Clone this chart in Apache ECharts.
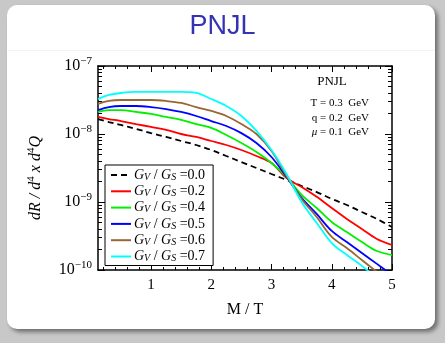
<!DOCTYPE html>
<html>
<head>
<meta charset="utf-8">
<title>PNJL</title>
<script src="https://cdn.jsdelivr.net/npm/echarts@6/dist/echarts.min.js"></script>
<style>
    html, body { margin: 0; padding: 0; background: #c8c8c8; }
    #panel {
        position: absolute; left: 7px; top: 5px; width: 428px; height: 324px;
        background: #fff; border-radius: 10px;
        box-shadow: 3px 3px 4px rgba(0, 0, 0, 0.45);
    }
    #rule { position: absolute; left: 7px; top: 50px; width: 428px; height: 1px; background: #f3f3f3; }
    #chart { position: absolute; left: 0; top: 0; width: 445px; height: 343px; }
</style>
</head>
<body>
<div id="panel"></div>
<div id="rule"></div>
<div id="chart"></div>
<script>
// 横轴 M/T
const massRatio = [0.12, 0.3, 0.5, 0.75, 1, 1.25, 1.5, 1.75, 2, 2.25, 2.5, 2.75, 3, 3.25, 3.5, 3.75, 4, 4.25, 4.5, 4.75, 5];

// dR/d^4x d^4Q，每条曲线一组
const rateGv00 = [1.66e-8, 1.50e-8, 1.36e-8, 1.19e-8, 1.03e-8, 9.04e-9, 7.89e-9, 6.89e-9, 5.82e-9, 4.75e-9, 3.87e-9, 3.16e-9, 2.58e-9, 2.11e-9, 1.72e-9, 1.40e-9, 1.11e-9, 9.04e-10, 7.13e-10, 5.62e-10, 4.29e-10];
const rateGv02 = [1.78e-8, 1.66e-8, 1.55e-8, 1.40e-8, 1.27e-8, 1.15e-8, 1.00e-8, 9.04e-9, 7.89e-9, 6.89e-9, 5.82e-9, 4.75e-9, 3.75e-9, 2.25e-9, 1.66e-9, 1.19e-9, 8.17e-10, 5.62e-10, 4.01e-10, 2.86e-10, 2.33e-10];
const rateGv04 = [2.11e-8, 2.25e-8, 2.25e-8, 2.11e-8, 1.97e-8, 1.78e-8, 1.61e-8, 1.40e-8, 1.23e-8, 9.67e-9, 7.38e-9, 5.44e-9, 3.75e-9, 2.33e-9, 1.27e-9, 8.17e-10, 5.08e-10, 3.62e-10, 2.58e-10, 1.90e-10, 1.66e-10];
const rateGv05 = [2.25e-8, 2.49e-8, 2.58e-8, 2.58e-8, 2.49e-8, 2.33e-8, 2.11e-8, 1.84e-8, 1.55e-8, 1.31e-8, 1.03e-8, 7.38e-9, 4.59e-9, 2.33e-9, 1.15e-9, 6.67e-10, 3.75e-10, 2.58e-10, 1.78e-10, 1.23e-10, 8.44e-11];
const rateGv06 = [2.76e-8, 3.06e-8, 3.16e-8, 3.16e-8, 3.16e-8, 3.06e-8, 2.86e-8, 2.49e-8, 2.18e-8, 1.84e-8, 1.40e-8, 1.00e-8, 5.62e-9, 2.41e-9, 1.11e-9, 6.01e-10, 3.06e-10, 2.11e-10, 1.40e-10, 9.35e-11, 6.22e-11];
const rateGv07 = [3.27e-8, 3.75e-8, 4.01e-8, 4.15e-8, 4.15e-8, 4.15e-8, 4.15e-8, 4.01e-8, 3.27e-8, 2.58e-8, 1.84e-8, 1.11e-8, 5.82e-9, 2.58e-9, 1.00e-9, 4.91e-10, 2.49e-10, 1.66e-10, 1.15e-10, 7.63e-11, 5.08e-11];

const couplingLabels = ['0.0', '0.2', '0.4', '0.5', '0.6', '0.7'];
const lineColors = ['#000000', '#ff0000', '#00f000', '#0000ff', '#996633', '#00ffff'];

// 刻度
const xMajorTicks = [1, 2, 3, 4, 5];
const xMinorTicks = [0.2, 0.4, 0.6, 0.8, 1.2, 1.4, 1.6, 1.8, 2.2, 2.4, 2.6, 2.8, 3.2, 3.4, 3.6, 3.8, 4.2, 4.4, 4.6, 4.8];
const yMajorTicks = [1e-10, 1e-9, 1e-8, 1e-7];
const yMinorTicks = [];
[1e-10, 1e-9, 1e-8].forEach(d => {
    for (let k = 2; k <= 9; k++) yMinorTicks.push(d * k);
});

const SERIF = '"Liberation Serif", "DejaVu Serif", serif';

const chart = echarts.init(document.getElementById('chart'), null, { renderer: 'canvas' });

const rates = [rateGv00, rateGv02, rateGv04, rateGv05, rateGv06, rateGv07];
const series = rates.map((ys, i) => ({
    name: couplingLabels[i],
    type: 'line',
    xAxisIndex: 0,
    yAxisIndex: 0,
    data: massRatio.map((x, j) => [x, ys[j]]),
    symbol: 'none',
    smooth: 0.35,
    clip: true,
    lineStyle: { color: lineColors[i], width: 1.8, type: i === 0 ? [6, 4] : 'solid' },
    itemStyle: { color: lineColors[i] }
}));

// 框线上的刻度轴
function xFrame(position, ticks, len, showLine, showLabel) {
    return {
        type: 'value', position: position, min: 0.12, max: 5,
        axisLine: { show: showLine, onZero: false, lineStyle: { color: '#000', width: 1.5 } },
        axisTick: { show: true, inside: true, length: len, customValues: ticks, lineStyle: { color: '#000', width: 1 } },
        axisLabel: showLabel
            ? { show: true, customValues: xMajorTicks, margin: 8, color: '#000', fontFamily: SERIF, fontSize: 15 }
            : { show: false },
        splitLine: { show: false }
    };
}

function yFrame(position, ticks, len, showLine, showLabel) {
    return {
        type: 'log', logBase: 10, position: position, min: 1e-10, max: 1e-7,
        axisLine: { show: showLine, lineStyle: { color: '#000', width: 1.5 } },
        axisTick: { show: true, inside: true, length: len, customValues: ticks, lineStyle: { color: '#000', width: 1 } },
        axisLabel: showLabel ? {
            show: true, customValues: yMajorTicks, margin: 6,
            formatter: v => '{b|10}{sup|−' + Math.round(-Math.log10(v)) + '}',
            rich: {
                b: { fontFamily: SERIF, fontSize: 16, color: '#000', lineHeight: 20 },
                sup: { fontFamily: SERIF, fontSize: 11, color: '#000', lineHeight: 12, verticalAlign: 'top' }
            }
        } : { show: false },
        splitLine: { show: false }
    };
}

const option = {
    animation: false,
    grid: { left: 98, right: 53, top: 66, bottom: 73 },
    xAxis: [
        Object.assign(xFrame('bottom', xMajorTicks, 6, true, true), {
            name: 'M / T', nameLocation: 'middle', nameGap: 32,
            nameTextStyle: { fontFamily: SERIF, fontSize: 16, color: '#000' }
        }),
        xFrame('bottom', xMinorTicks, 3, false, false),
        xFrame('top', xMajorTicks, 6, true, false),
        xFrame('top', xMinorTicks, 3, false, false)
    ],
    yAxis: [
        yFrame('left', yMajorTicks, 7, true, true),
        yFrame('left', yMinorTicks, 4, false, false),
        yFrame('right', yMajorTicks, 7, true, false),
        yFrame('right', yMinorTicks, 4, false, false)
    ],
    legend: {
        orient: 'vertical',
        left: 105, top: 165,
        padding: [3, 8, 2, 5],
        itemWidth: 20, itemHeight: 12, itemGap: 2.3,
        backgroundColor: '#fff',
        borderColor: '#000', borderWidth: 1, borderRadius: 0,
        data: couplingLabels,
        // 线型图例里的圆点隐藏掉，只留线
        itemStyle: { opacity: 0, borderWidth: 0 },
        formatter: name => '{g|G}{sub|V}{n| / }{g|G}{sub|S}{n| =' + name + '}',
        textStyle: {
            padding: [0, 0, 0, -2],
            rich: {
                g: { fontFamily: SERIF, fontStyle: 'italic', fontSize: 14, color: '#000', lineHeight: 14 },
                sub: { fontFamily: SERIF, fontStyle: 'italic', fontSize: 10, color: '#000', lineHeight: 6, verticalAlign: 'bottom' },
                n: { fontFamily: SERIF, fontSize: 14, color: '#000', lineHeight: 14 }
            }
        }
    },
    graphic: [
        {
            type: 'text', left: 'center', top: 13,
            style: { text: 'PNJL', fill: '#3333b3', font: '27px "Liberation Sans", "DejaVu Sans", sans-serif' }
        },
        {
            type: 'text', x: 332, y: 82,
            style: { text: 'PNJL', fill: '#000', font: '13px ' + SERIF, align: 'center', verticalAlign: 'middle' }
        },
        {
            type: 'text', x: 369, y: 103,
            style: { text: 'T = 0.3  GeV', fill: '#000', font: '11px ' + SERIF, align: 'right', verticalAlign: 'middle' }
        },
        {
            type: 'text', x: 369, y: 118,
            style: { text: 'q = 0.2  GeV', fill: '#000', font: '11px ' + SERIF, align: 'right', verticalAlign: 'middle' }
        },
        {
            type: 'text', x: 369, y: 132,
            style: {
                text: '{m|μ}{n| = 0.1  GeV}', align: 'right', verticalAlign: 'middle',
                rich: {
                    m: { fontFamily: SERIF, fontStyle: 'italic', fontSize: 11, fill: '#000' },
                    n: { fontFamily: SERIF, fontSize: 11, fill: '#000' }
                }
            }
        },
        {
            type: 'text', x: 36, y: 178, rotation: Math.PI / 2,
            style: {
                text: '{i|dR / d}{s|4}{i| x d}{s|4}{i|Q}',
                align: 'center', verticalAlign: 'middle',
                rich: {
                    i: { fontFamily: SERIF, fontStyle: 'italic', fontSize: 16, fill: '#000', lineHeight: 20 },
                    s: { fontFamily: SERIF, fontSize: 11, fill: '#000', lineHeight: 12, verticalAlign: 'top' }
                }
            }
        }
    ],
    series: series
};

chart.setOption(option);
</script>
</body>
</html>
